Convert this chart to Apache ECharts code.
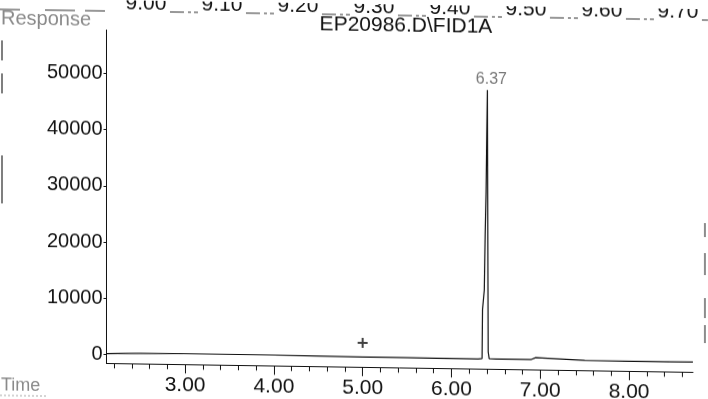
<!DOCTYPE html>
<html>
<head>
<meta charset="utf-8">
<script src="https://cdn.jsdelivr.net/npm/echarts@6/dist/echarts.min.js"></script>
<style>
  html, body { margin: 0; padding: 0; background: #fff; overflow: hidden; }
  /* the scanned page is slightly tilted: right side sits lower */
  #chart { width: 708px; height: 399px; transform: skewY(0.87deg); transform-origin: 107px 0; }
</style>
</head>
<body>
<div id="chart"></div>
<script>
// chromatogram trace (time in min, response)
const times = [2.12, 2.5, 3.0, 3.5, 4.0, 4.5, 5.0, 5.5, 6.0, 6.3, 6.345, 6.35, 6.37, 6.38, 6.39, 6.398, 6.405,
  6.41, 6.414, 6.425, 6.5, 6.9, 6.95, 6.97, 7.5, 8.0, 8.4, 8.72];
const responses = [150, 300, 350, 350, 350, 300, 250, 250, 200, 200, 300, 9000, 12500, 22500, 30000, 40000, 48100,
  20000, 1500, 300, 250, 250, 600, 250, 250, 200, 200, 250];

// labelled peak
const peakTimes = [6.405];
const peakHeights = [48100];
const peakNames = ['6.37'];

// "+" marker
const markTimes = [5.0];
const markHeights = [2750];

// axes
const xTickLabels = [3, 4, 5, 6, 7, 8];
const xMinorTicks = [2.2, 2.4, 2.6, 2.8, 3.2, 3.4, 3.6, 3.8, 4.2, 4.4, 4.6, 4.8, 5.2, 5.4, 5.6, 5.8,
  6.2, 6.4, 6.6, 6.8, 7.2, 7.4, 7.6, 7.8, 8.2, 8.4, 8.6];
const yTickLabels = [0, 10000, 20000, 30000, 40000, 50000];

// leftover of the previous page's axis, cut at the top of the scan
const topStripLabels = ['9.00', '9.10', '9.20', '9.30', '9.40', '9.50', '9.60', '9.70'];

const FONT = 'Liberation Sans';

function buildGraphics() {
  const g = [];
  g.push({ type: 'text', left: 1, top: 10, style: { text: 'Response', font: '20px ' + FONT, fill: '#8a8a8a' } });
  g.push({ type: 'text', left: 1, top: 378, style: { text: 'Time', font: '18px ' + FONT, fill: '#8a8a8a' } });
  g.push({ type: 'line', shape: { x1: 0, y1: 397, x2: 46, y2: 397 }, style: { stroke: '#aaa', lineWidth: 1, lineDash: [2, 2] } });
  g.push({ type: 'text', x: 406, y: 21, style: { text: 'EP20986.D\\FID1A', font: '21px ' + FONT, fill: '#111', align: 'center', verticalAlign: 'middle' } });

  topStripLabels.forEach((t, i) => {
    const cx = 146 + i * 76;
    g.push({ type: 'text', x: cx, y: 3, style: { text: t, font: '21px ' + FONT, fill: '#111', align: 'center', verticalAlign: 'middle' } });
    g.push({ type: 'line', shape: { x1: cx + 24, y1: 11, x2: cx + 52, y2: 11 }, style: { stroke: '#333', lineWidth: 1.2, lineDash: [14, 4, 3, 3] } });
  });
  g.push({ type: 'line', shape: { x1: 0, y1: 11, x2: 110, y2: 11 }, style: { stroke: '#333', lineWidth: 1.2, lineDash: [20, 25, 30, 10] } });

  // scan border marks
  [[42, 62], [75, 95], [157, 205]].forEach(s => {
    g.push({ type: 'line', shape: { x1: 2, y1: s[0], x2: 2, y2: s[1] }, style: { stroke: '#555', lineWidth: 1.5 } });
  });
  [[214, 228], [244, 266], [289, 309], [316, 334]].forEach(s => {
    g.push({ type: 'line', shape: { x1: 705, y1: s[0], x2: 705, y2: s[1] }, style: { stroke: '#666', lineWidth: 1.5 } });
  });
  return g;
}

const chart = echarts.init(document.getElementById('chart'));

const option = {
  animation: false,
  backgroundColor: '#fff',
  grid: { left: 106.5, right: 15, top: 30, bottom: 35.7, containLabel: false },
  xAxis: [
    {
      type: 'value', min: 2.115, max: 8.72,
      axisLine: { show: true, onZero: false, lineStyle: { color: '#111', width: 1 } },
      axisTick: { show: true, length: 9, customValues: xTickLabels, lineStyle: { color: '#111' } },
      axisLabel: { customValues: xTickLabels, margin: 10, color: '#111', fontFamily: FONT, fontSize: 21,
        formatter: v => v.toFixed(2) },
      splitLine: { show: false }
    },
    {
      type: 'value', min: 2.115, max: 8.72, position: 'bottom',
      axisLine: { show: false, onZero: false },
      axisTick: { show: true, length: 5, customValues: xMinorTicks, lineStyle: { color: '#111' } },
      axisLabel: { show: false },
      splitLine: { show: false }
    }
  ],
  yAxis: {
    type: 'value', min: -1570, max: 57740,
    axisLine: { show: true, lineStyle: { color: '#111', width: 1 } },
    axisTick: { show: true, length: 3, customValues: yTickLabels, lineStyle: { color: '#111' } },
    axisLabel: { customValues: yTickLabels, margin: 4, color: '#111', fontFamily: FONT, fontSize: 20,
      formatter: v => String(v) },
    splitLine: { show: false }
  },
  graphic: buildGraphics(),
  series: [
    {
      type: 'line',
      data: times.map((t, i) => [t, responses[i]]),
      showSymbol: false,
      sampling: 'none',
      lineStyle: { color: '#111', width: 1.2 }
    },
    {
      type: 'scatter',
      data: peakTimes.map((t, i) => [t, peakHeights[i], peakNames[i]]),
      symbolSize: 0,
      label: {
        show: true, position: 'top', distance: 3, offset: [4, 0],
        formatter: p => p.data[2], color: '#555', fontFamily: FONT, fontSize: 16
      }
    },
    {
      type: 'scatter',
      data: markTimes.map((t, i) => [t, markHeights[i]]),
      symbol: 'path://M4,0H6V10H4Z M0,4H10V6H0Z',
      symbolSize: 10,
      itemStyle: { color: '#111' }
    }
  ]
};

chart.setOption(option);
</script>
</body>
</html>
